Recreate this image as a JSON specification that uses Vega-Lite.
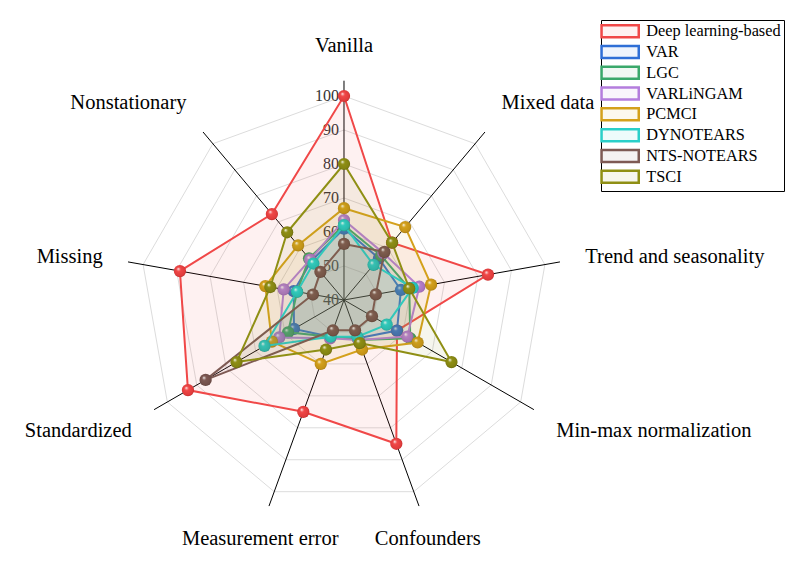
{
  "$schema": "https://vega.github.io/schema/vega-lite/v6.json",
  "width": 793,
  "height": 563,
  "padding": 0,
  "autosize": {"type": "none"},
  "background": "white",
  "config": {"view": {"stroke": null}},
  "datasets": {
    "axes": [
      {"axis": "Vanilla", "order": 0, "levels": [50, 60, 70, 80, 90, 100]},
      {"axis": "Mixed data", "order": 1, "levels": [50, 60, 70, 80, 90, 100]},
      {"axis": "Trend and seasonality", "order": 2, "levels": [50, 60, 70, 80, 90, 100]},
      {"axis": "Min-max normalization", "order": 3, "levels": [50, 60, 70, 80, 90, 100]},
      {"axis": "Confounders", "order": 4, "levels": [50, 60, 70, 80, 90, 100]},
      {"axis": "Measurement error", "order": 5, "levels": [50, 60, 70, 80, 90, 100]},
      {"axis": "Standardized", "order": 6, "levels": [50, 60, 70, 80, 90, 100]},
      {"axis": "Missing", "order": 7, "levels": [50, 60, 70, 80, 90, 100]},
      {"axis": "Nonstationary", "order": 8, "levels": [50, 60, 70, 80, 90, 100]}
    ],
    "ticks": [{"tick": 40}, {"tick": 50}, {"tick": 60}, {"tick": 70}, {"tick": 80}, {"tick": 90}, {"tick": 100}],
    "scores": [
      {"series": "Deep learning-based", "axis": "Vanilla", "value": 100},
      {"series": "Deep learning-based", "axis": "Mixed data", "value": 62},
      {"series": "Deep learning-based", "axis": "Trend and seasonality", "value": 83},
      {"series": "Deep learning-based", "axis": "Min-max normalization", "value": 58},
      {"series": "Deep learning-based", "axis": "Confounders", "value": 85},
      {"series": "Deep learning-based", "axis": "Measurement error", "value": 75},
      {"series": "Deep learning-based", "axis": "Standardized", "value": 93},
      {"series": "Deep learning-based", "axis": "Missing", "value": 89},
      {"series": "Deep learning-based", "axis": "Nonstationary", "value": 73},
      {"series": "VAR", "axis": "Vanilla", "value": 61},
      {"series": "VAR", "axis": "Mixed data", "value": 56},
      {"series": "VAR", "axis": "Trend and seasonality", "value": 57},
      {"series": "VAR", "axis": "Min-max normalization", "value": 58},
      {"series": "VAR", "axis": "Confounders", "value": 52},
      {"series": "VAR", "axis": "Measurement error", "value": 51.5},
      {"series": "VAR", "axis": "Standardized", "value": 57},
      {"series": "VAR", "axis": "Missing", "value": 55},
      {"series": "VAR", "axis": "Nonstationary", "value": 55},
      {"series": "LGC", "axis": "Vanilla", "value": 62},
      {"series": "LGC", "axis": "Mixed data", "value": 57},
      {"series": "LGC", "axis": "Trend and seasonality", "value": 59.5},
      {"series": "LGC", "axis": "Min-max normalization", "value": 62.5},
      {"series": "LGC", "axis": "Confounders", "value": 52.5},
      {"series": "LGC", "axis": "Measurement error", "value": 51.5},
      {"series": "LGC", "axis": "Standardized", "value": 59},
      {"series": "LGC", "axis": "Missing", "value": 54},
      {"series": "LGC", "axis": "Nonstationary", "value": 56},
      {"series": "VARLiNGAM", "axis": "Vanilla", "value": 63.5},
      {"series": "VARLiNGAM", "axis": "Mixed data", "value": 58},
      {"series": "VARLiNGAM", "axis": "Trend and seasonality", "value": 62.5},
      {"series": "VARLiNGAM", "axis": "Min-max normalization", "value": 61.5},
      {"series": "VARLiNGAM", "axis": "Confounders", "value": 52.5},
      {"series": "VARLiNGAM", "axis": "Measurement error", "value": 52},
      {"series": "VARLiNGAM", "axis": "Standardized", "value": 62},
      {"series": "VARLiNGAM", "axis": "Missing", "value": 58},
      {"series": "VARLiNGAM", "axis": "Nonstationary", "value": 55.5},
      {"series": "PCMCI", "axis": "Vanilla", "value": 67},
      {"series": "PCMCI", "axis": "Mixed data", "value": 68},
      {"series": "PCMCI", "axis": "Trend and seasonality", "value": 66},
      {"series": "PCMCI", "axis": "Min-max normalization", "value": 65},
      {"series": "PCMCI", "axis": "Confounders", "value": 55.5},
      {"series": "PCMCI", "axis": "Measurement error", "value": 60},
      {"series": "PCMCI", "axis": "Standardized", "value": 64.5},
      {"series": "PCMCI", "axis": "Missing", "value": 63.5},
      {"series": "PCMCI", "axis": "Nonstationary", "value": 61},
      {"series": "DYNOTEARS", "axis": "Vanilla", "value": 62},
      {"series": "DYNOTEARS", "axis": "Mixed data", "value": 53.5},
      {"series": "DYNOTEARS", "axis": "Trend and seasonality", "value": 60.5},
      {"series": "DYNOTEARS", "axis": "Min-max normalization", "value": 54.5},
      {"series": "DYNOTEARS", "axis": "Confounders", "value": 51.5},
      {"series": "DYNOTEARS", "axis": "Measurement error", "value": 51.5},
      {"series": "DYNOTEARS", "axis": "Standardized", "value": 67},
      {"series": "DYNOTEARS", "axis": "Missing", "value": 54},
      {"series": "DYNOTEARS", "axis": "Nonstationary", "value": 54},
      {"series": "NTS-NOTEARS", "axis": "Vanilla", "value": 56.5},
      {"series": "NTS-NOTEARS", "axis": "Mixed data", "value": 58.5},
      {"series": "NTS-NOTEARS", "axis": "Trend and seasonality", "value": 49.5},
      {"series": "NTS-NOTEARS", "axis": "Min-max normalization", "value": 49.5},
      {"series": "NTS-NOTEARS", "axis": "Confounders", "value": 49.5},
      {"series": "NTS-NOTEARS", "axis": "Measurement error", "value": 49.5},
      {"series": "NTS-NOTEARS", "axis": "Standardized", "value": 87},
      {"series": "NTS-NOTEARS", "axis": "Missing", "value": 49.3},
      {"series": "NTS-NOTEARS", "axis": "Nonstationary", "value": 50.8},
      {"series": "TSCI", "axis": "Vanilla", "value": 80},
      {"series": "TSCI", "axis": "Mixed data", "value": 62},
      {"series": "TSCI", "axis": "Trend and seasonality", "value": 59.5},
      {"series": "TSCI", "axis": "Min-max normalization", "value": 76.5},
      {"series": "TSCI", "axis": "Confounders", "value": 53.5},
      {"series": "TSCI", "axis": "Measurement error", "value": 55.5},
      {"series": "TSCI", "axis": "Standardized", "value": 76.5},
      {"series": "TSCI", "axis": "Missing", "value": 62},
      {"series": "TSCI", "axis": "Nonstationary", "value": 66}
    ]
  },
  "layer": [
    {
      "data": {"name": "axes"},
      "transform": [
        {"flatten": ["levels"], "as": ["level"]},
        {"calculate": "datum.order*2*PI/9", "as": "theta"},
        {"calculate": "(datum.level-40)*sin(datum.theta)", "as": "px"},
        {"calculate": "(datum.level-40)*cos(datum.theta)", "as": "py"}
      ],
      "mark": {"type": "line", "interpolate": "linear-closed", "stroke": "#dcdcdc", "strokeWidth": 1},
      "encoding": {
        "x": {"field": "px", "type": "quantitative", "scale": {"domain": [-101.176, 132.059], "nice": false, "zero": false}, "axis": null},
        "y": {"field": "py", "type": "quantitative", "scale": {"domain": [-77.353, 88.235], "nice": false, "zero": false}, "axis": null},
        "detail": {"field": "level", "type": "nominal"},
        "order": {"field": "order", "type": "quantitative"}
      }
    },
    {
      "data": {"name": "axes"},
      "transform": [
        {"calculate": "datum.order*2*PI/9", "as": "theta"},
        {"calculate": "64.5*sin(datum.theta)", "as": "px"},
        {"calculate": "64.5*cos(datum.theta)", "as": "py"}
      ],
      "mark": {"type": "rule", "stroke": "black", "strokeWidth": 1},
      "encoding": {
        "x": {"field": "px", "type": "quantitative", "scale": {"domain": [-101.176, 132.059], "nice": false, "zero": false}, "axis": null},
        "y": {"field": "py", "type": "quantitative", "scale": {"domain": [-77.353, 88.235], "nice": false, "zero": false}, "axis": null},
        "x2": {"datum": 0},
        "y2": {"datum": 0}
      }
    },
    {
      "data": {"name": "ticks"},
      "transform": [{"calculate": "datum.tick-40", "as": "py"}],
      "mark": {"type": "text", "align": "right", "baseline": "middle", "dx": -5, "font": "Liberation Serif", "fontSize": 16, "fill": "#333333"},
      "encoding": {
        "x": {"datum": 0, "type": "quantitative", "scale": {"domain": [-101.176, 132.059], "nice": false, "zero": false}, "axis": null},
        "y": {"field": "py", "type": "quantitative", "scale": {"domain": [-77.353, 88.235], "nice": false, "zero": false}, "axis": null},
        "text": {"field": "tick", "type": "nominal"}
      }
    },
    {
      "data": {"name": "scores"},
      "transform": [
        {"lookup": "axis", "from": {"data": {"name": "axes"}, "key": "axis", "fields": ["order"]}},
        {"calculate": "datum.order*2*PI/9", "as": "theta"},
        {"calculate": "(datum.value-40)*sin(datum.theta)", "as": "px"},
        {"calculate": "(datum.value-40)*cos(datum.theta)", "as": "py"}
      ],
      "encoding": {
        "x": {"field": "px", "type": "quantitative", "scale": {"domain": [-101.176, 132.059], "nice": false, "zero": false}, "axis": null},
        "y": {"field": "py", "type": "quantitative", "scale": {"domain": [-77.353, 88.235], "nice": false, "zero": false}, "axis": null},
        "order": {"field": "order", "type": "quantitative"}
      },
      "layer": [
        {
          "transform": [{"filter": "datum.series === 'Deep learning-based'"}],
          "mark": {"type": "line", "interpolate": "linear-closed", "strokeWidth": 2},
          "encoding": {
            "stroke": {"field": "series", "type": "nominal", "scale": {"domain": ["Deep learning-based", "VAR", "LGC", "VARLiNGAM", "PCMCI", "DYNOTEARS", "NTS-NOTEARS", "TSCI"], "range": ["#f04848", "#2f6fd6", "#3aa86b", "#b47ddd", "#d4a11c", "#2acfc9", "#7e5a54", "#8f8f14"]}, "legend": {"title": null, "orient": "none", "legendX": 601, "legendY": 20, "padding": 3, "strokeColor": "black", "fillColor": "white", "symbolType": "M-3.1,-1H3.1V1H-3.1Z", "symbolSize": 144, "symbolStrokeWidth": 2.5, "symbolOffset": 8, "labelOffset": 18, "labelFont": "Liberation Serif", "labelFontSize": 16.3, "labelColor": "black", "rowPadding": -2.2, "labelLimit": 300}},
            "fill": {"field": "series", "type": "nominal", "scale": {"domain": ["Deep learning-based", "VAR", "LGC", "VARLiNGAM", "PCMCI", "DYNOTEARS", "NTS-NOTEARS", "TSCI"], "range": ["rgba(240,72,72,0.08)", "rgba(47,111,214,0.08)", "rgba(58,168,107,0.08)", "rgba(180,125,221,0.08)", "rgba(212,161,28,0.08)", "rgba(42,207,201,0.08)", "rgba(126,90,84,0.08)", "rgba(143,143,20,0.08)"]}, "legend": {"title": null, "orient": "none", "legendX": 601, "legendY": 20, "padding": 3, "strokeColor": "black", "fillColor": "white", "symbolType": "M-3.1,-1H3.1V1H-3.1Z", "symbolSize": 144, "symbolStrokeWidth": 2.5, "symbolOffset": 8, "labelOffset": 18, "labelFont": "Liberation Serif", "labelFontSize": 16.3, "labelColor": "black", "rowPadding": -2.2, "labelLimit": 300}}
          }
        },
        {
          "transform": [{"filter": "datum.series === 'Deep learning-based'"}],
          "mark": {"type": "circle", "size": 150, "opacity": 1, "fill": {"gradient": "radial", "x1": 0.35, "y1": 0.3, "r1": 0, "x2": 0.5, "y2": 0.5, "r2": 0.55, "stops": [{"offset": 0, "color": "#ffffff"}, {"offset": 0.3, "color": "#f04848"}, {"offset": 0.8, "color": "#e03c3c"}, {"offset": 1, "color": "#b52626"}]}}
        },
        {
          "transform": [{"filter": "datum.series === 'VAR'"}],
          "mark": {"type": "line", "interpolate": "linear-closed", "strokeWidth": 2},
          "encoding": {
            "stroke": {"field": "series", "type": "nominal", "scale": {"domain": ["Deep learning-based", "VAR", "LGC", "VARLiNGAM", "PCMCI", "DYNOTEARS", "NTS-NOTEARS", "TSCI"], "range": ["#f04848", "#2f6fd6", "#3aa86b", "#b47ddd", "#d4a11c", "#2acfc9", "#7e5a54", "#8f8f14"]}},
            "fill": {"field": "series", "type": "nominal", "scale": {"domain": ["Deep learning-based", "VAR", "LGC", "VARLiNGAM", "PCMCI", "DYNOTEARS", "NTS-NOTEARS", "TSCI"], "range": ["rgba(240,72,72,0.08)", "rgba(47,111,214,0.08)", "rgba(58,168,107,0.08)", "rgba(180,125,221,0.08)", "rgba(212,161,28,0.08)", "rgba(42,207,201,0.08)", "rgba(126,90,84,0.08)", "rgba(143,143,20,0.08)"]}}
          }
        },
        {
          "transform": [{"filter": "datum.series === 'VAR'"}],
          "mark": {"type": "circle", "size": 150, "opacity": 1, "fill": {"gradient": "radial", "x1": 0.35, "y1": 0.3, "r1": 0, "x2": 0.5, "y2": 0.5, "r2": 0.55, "stops": [{"offset": 0, "color": "#ffffff"}, {"offset": 0.3, "color": "#2f6fd6"}, {"offset": 0.8, "color": "#2862c4"}, {"offset": 1, "color": "#1d4a99"}]}}
        },
        {
          "transform": [{"filter": "datum.series === 'LGC'"}],
          "mark": {"type": "line", "interpolate": "linear-closed", "strokeWidth": 2},
          "encoding": {
            "stroke": {"field": "series", "type": "nominal", "scale": {"domain": ["Deep learning-based", "VAR", "LGC", "VARLiNGAM", "PCMCI", "DYNOTEARS", "NTS-NOTEARS", "TSCI"], "range": ["#f04848", "#2f6fd6", "#3aa86b", "#b47ddd", "#d4a11c", "#2acfc9", "#7e5a54", "#8f8f14"]}},
            "fill": {"field": "series", "type": "nominal", "scale": {"domain": ["Deep learning-based", "VAR", "LGC", "VARLiNGAM", "PCMCI", "DYNOTEARS", "NTS-NOTEARS", "TSCI"], "range": ["rgba(240,72,72,0.08)", "rgba(47,111,214,0.08)", "rgba(58,168,107,0.08)", "rgba(180,125,221,0.08)", "rgba(212,161,28,0.08)", "rgba(42,207,201,0.08)", "rgba(126,90,84,0.08)", "rgba(143,143,20,0.08)"]}}
          }
        },
        {
          "transform": [{"filter": "datum.series === 'LGC'"}],
          "mark": {"type": "circle", "size": 150, "opacity": 1, "fill": {"gradient": "radial", "x1": 0.35, "y1": 0.3, "r1": 0, "x2": 0.5, "y2": 0.5, "r2": 0.55, "stops": [{"offset": 0, "color": "#ffffff"}, {"offset": 0.3, "color": "#3aa86b"}, {"offset": 0.8, "color": "#33985f"}, {"offset": 1, "color": "#24774a"}]}}
        },
        {
          "transform": [{"filter": "datum.series === 'VARLiNGAM'"}],
          "mark": {"type": "line", "interpolate": "linear-closed", "strokeWidth": 2},
          "encoding": {
            "stroke": {"field": "series", "type": "nominal", "scale": {"domain": ["Deep learning-based", "VAR", "LGC", "VARLiNGAM", "PCMCI", "DYNOTEARS", "NTS-NOTEARS", "TSCI"], "range": ["#f04848", "#2f6fd6", "#3aa86b", "#b47ddd", "#d4a11c", "#2acfc9", "#7e5a54", "#8f8f14"]}},
            "fill": {"field": "series", "type": "nominal", "scale": {"domain": ["Deep learning-based", "VAR", "LGC", "VARLiNGAM", "PCMCI", "DYNOTEARS", "NTS-NOTEARS", "TSCI"], "range": ["rgba(240,72,72,0.08)", "rgba(47,111,214,0.08)", "rgba(58,168,107,0.08)", "rgba(180,125,221,0.08)", "rgba(212,161,28,0.08)", "rgba(42,207,201,0.08)", "rgba(126,90,84,0.08)", "rgba(143,143,20,0.08)"]}}
          }
        },
        {
          "transform": [{"filter": "datum.series === 'VARLiNGAM'"}],
          "mark": {"type": "circle", "size": 150, "opacity": 1, "fill": {"gradient": "radial", "x1": 0.35, "y1": 0.3, "r1": 0, "x2": 0.5, "y2": 0.5, "r2": 0.55, "stops": [{"offset": 0, "color": "#ffffff"}, {"offset": 0.3, "color": "#b47ddd"}, {"offset": 0.8, "color": "#a46fcc"}, {"offset": 1, "color": "#8452ad"}]}}
        },
        {
          "transform": [{"filter": "datum.series === 'PCMCI'"}],
          "mark": {"type": "line", "interpolate": "linear-closed", "strokeWidth": 2},
          "encoding": {
            "stroke": {"field": "series", "type": "nominal", "scale": {"domain": ["Deep learning-based", "VAR", "LGC", "VARLiNGAM", "PCMCI", "DYNOTEARS", "NTS-NOTEARS", "TSCI"], "range": ["#f04848", "#2f6fd6", "#3aa86b", "#b47ddd", "#d4a11c", "#2acfc9", "#7e5a54", "#8f8f14"]}},
            "fill": {"field": "series", "type": "nominal", "scale": {"domain": ["Deep learning-based", "VAR", "LGC", "VARLiNGAM", "PCMCI", "DYNOTEARS", "NTS-NOTEARS", "TSCI"], "range": ["rgba(240,72,72,0.08)", "rgba(47,111,214,0.08)", "rgba(58,168,107,0.08)", "rgba(180,125,221,0.08)", "rgba(212,161,28,0.08)", "rgba(42,207,201,0.08)", "rgba(126,90,84,0.08)", "rgba(143,143,20,0.08)"]}}
          }
        },
        {
          "transform": [{"filter": "datum.series === 'PCMCI'"}],
          "mark": {"type": "circle", "size": 150, "opacity": 1, "fill": {"gradient": "radial", "x1": 0.35, "y1": 0.3, "r1": 0, "x2": 0.5, "y2": 0.5, "r2": 0.55, "stops": [{"offset": 0, "color": "#ffffff"}, {"offset": 0.3, "color": "#d4a11c"}, {"offset": 0.8, "color": "#c39217"}, {"offset": 1, "color": "#9c7410"}]}}
        },
        {
          "transform": [{"filter": "datum.series === 'DYNOTEARS'"}],
          "mark": {"type": "line", "interpolate": "linear-closed", "strokeWidth": 2},
          "encoding": {
            "stroke": {"field": "series", "type": "nominal", "scale": {"domain": ["Deep learning-based", "VAR", "LGC", "VARLiNGAM", "PCMCI", "DYNOTEARS", "NTS-NOTEARS", "TSCI"], "range": ["#f04848", "#2f6fd6", "#3aa86b", "#b47ddd", "#d4a11c", "#2acfc9", "#7e5a54", "#8f8f14"]}},
            "fill": {"field": "series", "type": "nominal", "scale": {"domain": ["Deep learning-based", "VAR", "LGC", "VARLiNGAM", "PCMCI", "DYNOTEARS", "NTS-NOTEARS", "TSCI"], "range": ["rgba(240,72,72,0.08)", "rgba(47,111,214,0.08)", "rgba(58,168,107,0.08)", "rgba(180,125,221,0.08)", "rgba(212,161,28,0.08)", "rgba(42,207,201,0.08)", "rgba(126,90,84,0.08)", "rgba(143,143,20,0.08)"]}}
          }
        },
        {
          "transform": [{"filter": "datum.series === 'DYNOTEARS'"}],
          "mark": {"type": "circle", "size": 150, "opacity": 1, "fill": {"gradient": "radial", "x1": 0.35, "y1": 0.3, "r1": 0, "x2": 0.5, "y2": 0.5, "r2": 0.55, "stops": [{"offset": 0, "color": "#ffffff"}, {"offset": 0.3, "color": "#2acfc9"}, {"offset": 0.8, "color": "#24bdb7"}, {"offset": 1, "color": "#1a9591"}]}}
        },
        {
          "transform": [{"filter": "datum.series === 'NTS-NOTEARS'"}],
          "mark": {"type": "line", "interpolate": "linear-closed", "strokeWidth": 2},
          "encoding": {
            "stroke": {"field": "series", "type": "nominal", "scale": {"domain": ["Deep learning-based", "VAR", "LGC", "VARLiNGAM", "PCMCI", "DYNOTEARS", "NTS-NOTEARS", "TSCI"], "range": ["#f04848", "#2f6fd6", "#3aa86b", "#b47ddd", "#d4a11c", "#2acfc9", "#7e5a54", "#8f8f14"]}},
            "fill": {"field": "series", "type": "nominal", "scale": {"domain": ["Deep learning-based", "VAR", "LGC", "VARLiNGAM", "PCMCI", "DYNOTEARS", "NTS-NOTEARS", "TSCI"], "range": ["rgba(240,72,72,0.08)", "rgba(47,111,214,0.08)", "rgba(58,168,107,0.08)", "rgba(180,125,221,0.08)", "rgba(212,161,28,0.08)", "rgba(42,207,201,0.08)", "rgba(126,90,84,0.08)", "rgba(143,143,20,0.08)"]}}
          }
        },
        {
          "transform": [{"filter": "datum.series === 'NTS-NOTEARS'"}],
          "mark": {"type": "circle", "size": 150, "opacity": 1, "fill": {"gradient": "radial", "x1": 0.35, "y1": 0.3, "r1": 0, "x2": 0.5, "y2": 0.5, "r2": 0.55, "stops": [{"offset": 0, "color": "#ffffff"}, {"offset": 0.3, "color": "#7e5a54"}, {"offset": 0.8, "color": "#724f4a"}, {"offset": 1, "color": "#553a35"}]}}
        },
        {
          "transform": [{"filter": "datum.series === 'TSCI'"}],
          "mark": {"type": "line", "interpolate": "linear-closed", "strokeWidth": 2},
          "encoding": {
            "stroke": {"field": "series", "type": "nominal", "scale": {"domain": ["Deep learning-based", "VAR", "LGC", "VARLiNGAM", "PCMCI", "DYNOTEARS", "NTS-NOTEARS", "TSCI"], "range": ["#f04848", "#2f6fd6", "#3aa86b", "#b47ddd", "#d4a11c", "#2acfc9", "#7e5a54", "#8f8f14"]}},
            "fill": {"field": "series", "type": "nominal", "scale": {"domain": ["Deep learning-based", "VAR", "LGC", "VARLiNGAM", "PCMCI", "DYNOTEARS", "NTS-NOTEARS", "TSCI"], "range": ["rgba(240,72,72,0.08)", "rgba(47,111,214,0.08)", "rgba(58,168,107,0.08)", "rgba(180,125,221,0.08)", "rgba(212,161,28,0.08)", "rgba(42,207,201,0.08)", "rgba(126,90,84,0.08)", "rgba(143,143,20,0.08)"]}}
          }
        },
        {
          "transform": [{"filter": "datum.series === 'TSCI'"}],
          "mark": {"type": "circle", "size": 150, "opacity": 1, "fill": {"gradient": "radial", "x1": 0.35, "y1": 0.3, "r1": 0, "x2": 0.5, "y2": 0.5, "r2": 0.55, "stops": [{"offset": 0, "color": "#ffffff"}, {"offset": 0.3, "color": "#8f8f14"}, {"offset": 0.8, "color": "#828212"}, {"offset": 1, "color": "#60600b"}]}}
        }
      ]
    },
    {
      "data": {"name": "axes"},
      "transform": [
        {"calculate": "datum.order*2*PI/9", "as": "theta"},
        {"calculate": "sin(datum.theta)", "as": "s"},
        {"calculate": "cos(datum.theta)", "as": "c"},
        {"calculate": "245*datum.s/3.4", "as": "px"},
        {"calculate": "(245*datum.c + (datum.c > 0.5 ? 9 : (datum.c < -0.4 ? -9 : 0)))/3.4", "as": "py"}
      ],
      "encoding": {
        "x": {"field": "px", "type": "quantitative", "scale": {"domain": [-101.176, 132.059], "nice": false, "zero": false}, "axis": null},
        "y": {"field": "py", "type": "quantitative", "scale": {"domain": [-77.353, 88.235], "nice": false, "zero": false}, "axis": null},
        "text": {"field": "axis", "type": "nominal"}
      },
      "layer": [
        {
          "transform": [{"filter": "datum.s > 0.5"}],
          "mark": {"type": "text", "align": "left", "baseline": "middle", "font": "Liberation Serif", "fontSize": 20.5, "fill": "black"}
        },
        {
          "transform": [{"filter": "datum.s < -0.5"}],
          "mark": {"type": "text", "align": "right", "baseline": "middle", "font": "Liberation Serif", "fontSize": 20.5, "fill": "black"}
        },
        {
          "transform": [{"filter": "datum.s >= -0.5 && datum.s <= 0.5"}],
          "mark": {"type": "text", "align": "center", "baseline": "middle", "font": "Liberation Serif", "fontSize": 20.5, "fill": "black"}
        }
      ]
    }
  ]
}
